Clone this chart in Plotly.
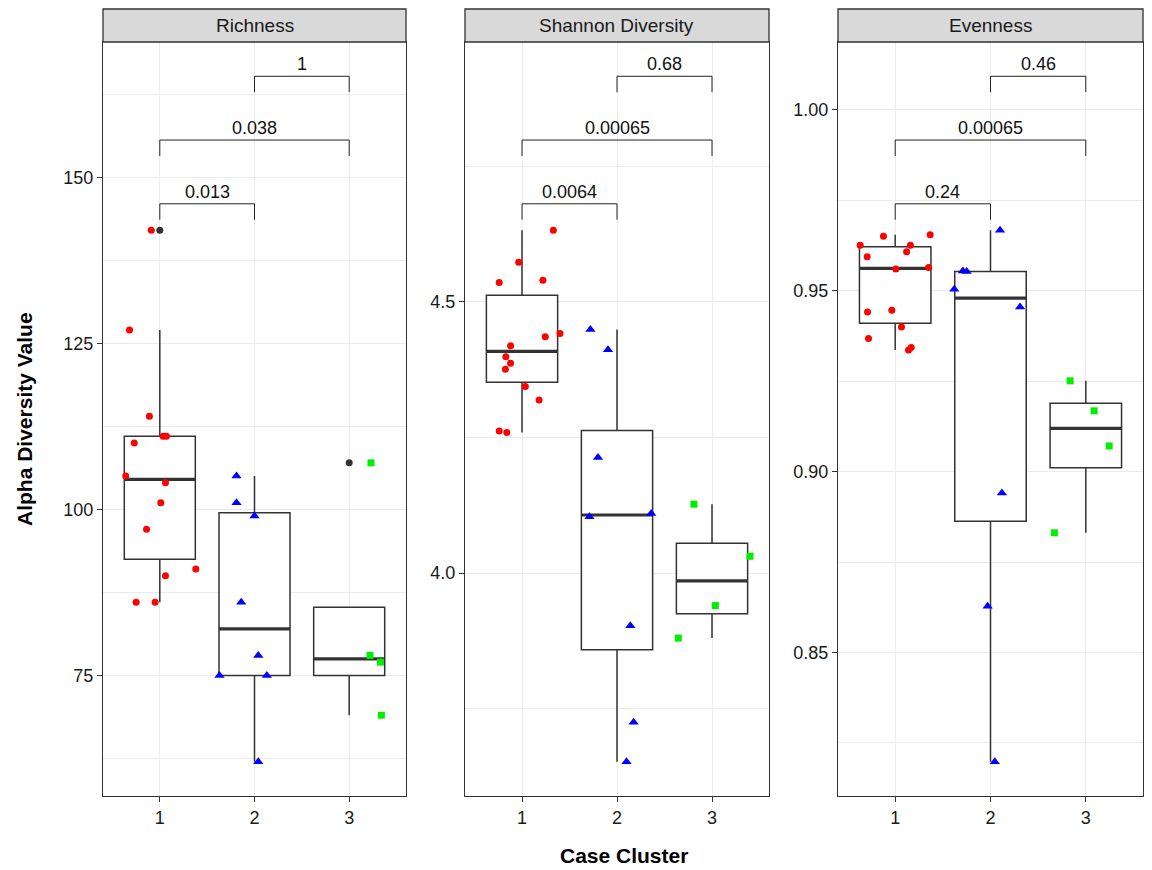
import numpy as np
import plotly.graph_objects as go

# ---------------- data ----------------
clusters = [1, 2, 3]
panel_titles = ["Richness", "Shannon Diversity", "Evenness"]

rich_1 = [142, 127, 114, 111, 111, 110, 105, 104, 101, 97, 91, 90, 86, 86]
rich_1_jit = [-0.09, -0.32, -0.11, 0.035, 0.07, -0.27, -0.36, 0.06, 0.01, -0.14, 0.38, 0.06, -0.25, -0.05]
rich_2 = [105, 101, 99, 86, 78, 75, 75, 62]
rich_2_jit = [-0.19, -0.19, 0.0, -0.14, 0.04, -0.37, 0.13, 0.04]
rich_3 = [107, 78, 77, 69]
rich_3_jit = [0.23, 0.22, 0.33, 0.34]

shan_1 = [4.632, 4.573, 4.536, 4.540, 4.442, 4.436, 4.419, 4.399, 4.387, 4.376, 4.344, 4.319, 4.262, 4.259]
shan_1_jit = [0.33, -0.035, -0.24, 0.22, 0.40, 0.245, -0.12, -0.17, -0.12, -0.175, 0.035, 0.18, -0.24, -0.16]
shan_2 = [4.449, 4.412, 4.213, 4.104, 4.110, 3.903, 3.725, 3.652]
shan_2_jit = [-0.28, -0.095, -0.2, -0.29, 0.36, 0.14, 0.175, 0.10]
shan_3 = [4.127, 4.031, 3.940, 3.880]
shan_3_jit = [-0.19, 0.40, 0.035, -0.355]

even_1 = [0.9651, 0.9655, 0.9626, 0.9626, 0.9594, 0.9608, 0.9560, 0.9564, 0.9441, 0.9446, 0.9400, 0.9368, 0.9336, 0.9343]
even_1_jit = [-0.123, 0.367, -0.367, 0.16, -0.294, 0.12, 0.007, 0.35, -0.29, -0.035, 0.066, -0.28, 0.14, 0.168]
even_2 = [0.9667, 0.9555, 0.9553, 0.9504, 0.9455, 0.8941, 0.8628, 0.8198]
even_2_jit = [0.10, -0.29, -0.25, -0.38, 0.31, 0.12, -0.03, 0.045]
even_3 = [0.9251, 0.9168, 0.9071, 0.8831]
even_3_jit = [-0.165, 0.087, 0.245, -0.33]

comparisons = [(1, 2), (1, 3), (2, 3)]
rich_p = ["0.013", "0.038", "1"]
shan_p = ["0.0064", "0.00065", "0.68"]
even_p = ["0.24", "0.00065", "0.46"]

y_dtick = [25, 0.5, 0.05]
y_format = ["d", ".1f", ".2f"]

panels = [
    ([rich_1, rich_2, rich_3], [rich_1_jit, rich_2_jit, rich_3_jit], rich_p),
    ([shan_1, shan_2, shan_3], [shan_1_jit, shan_2_jit, shan_3_jit], shan_p),
    ([even_1, even_2, even_3], [even_1_jit, even_2_jit, even_3_jit], even_p),
]

# ---------------- styling ----------------
OFF = 8  # page body margin in the browser
W, H = 1152 - OFF, 870 - OFF
FONT = "Liberation Sans, Arial, Helvetica, sans-serif"
DARK = "#333333"
GRID = "#ebebeb"
group_colors = ["#FF0000", "#0000FF", "#00EE00"]
group_symbols = ["circle", "triangle-up", "square"]
group_sizes = [7, 9, 7]
panel_x_px = [(103, 406), (465, 769), (838, 1143)]
plot_top_px, plot_bot_px = 42, 796
strip_top_px = 9


def fx(px):
    return (px - OFF) / W


def fy(py):
    return 1 - (py - OFF) / H


fig = go.Figure()
shapes = []
annotations = []


def box_stats(v):
    v = np.asarray(v, dtype=float)
    q1, med, q3 = np.percentile(v, [25, 50, 75])
    iqr = q3 - q1
    lo_f, hi_f = q1 - 1.5 * iqr, q3 + 1.5 * iqr
    inside = v[(v >= lo_f) & (v <= hi_f)]
    outl = v[(v < lo_f) | (v > hi_f)]
    return q1, med, q3, inside.min(), inside.max(), outl


for p, (groups, jits, pvals) in enumerate(panels):
    xa = "x" if p == 0 else f"x{p+1}"
    ya = "y" if p == 0 else f"y{p+1}"
    allv = np.concatenate([np.asarray(g, float) for g in groups])
    vmin, vmax = allv.min(), allv.max()
    rng = vmax - vmin

    for gi, (vals, jit) in enumerate(zip(groups, jits)):
        k = clusters[gi]
        q1, med, q3, lw, uw, outl = box_stats(vals)
        fig.add_trace(go.Box(
            x=[k], q1=[q1], median=[med], q3=[q3], lowerfence=[lw], upperfence=[uw],
            width=0.75, whiskerwidth=0, fillcolor="white",
            line=dict(color=DARK, width=1.5), boxpoints=False,
            xaxis=xa, yaxis=ya, showlegend=False, hoverinfo="skip"))
        fig.add_trace(go.Scatter(
            x=[k - 0.375, k + 0.375], y=[med, med], mode="lines",
            line=dict(color=DARK, width=3.2), xaxis=xa, yaxis=ya,
            showlegend=False, hoverinfo="skip"))
        if len(outl):
            fig.add_trace(go.Scatter(
                x=[k] * len(outl), y=list(outl), mode="markers",
                marker=dict(color=DARK, size=7, symbol="circle"),
                xaxis=xa, yaxis=ya, showlegend=False))

    for gi, (vals, jit) in enumerate(zip(groups, jits)):
        k = clusters[gi]
        fig.add_trace(go.Scatter(
            x=[k + j for j in jit], y=vals, mode="markers",
            marker=dict(color=group_colors[gi], size=group_sizes[gi],
                        symbol=group_symbols[gi], line=dict(width=0)),
            xaxis=xa, yaxis=ya, showlegend=False))

    # significance brackets
    for lvl, ((a, b), lab) in enumerate(zip(comparisons, pvals)):
        yb = vmax + rng * (0.05 + 0.12 * lvl)
        tip = 0.03 * rng
        shapes.append(dict(
            type="path", xref=xa, yref=ya,
            path=f"M {a},{yb - tip} L {a},{yb} L {b},{yb} L {b},{yb - tip}",
            line=dict(color="#222222", width=1)))
        annotations.append(dict(
            x=(a + b) / 2, y=yb, xref=xa, yref=ya, text=lab, showarrow=False,
            yanchor="bottom", yshift=0, font=dict(family=FONT, size=18, color="#111111")))

    top = vmax + rng * (0.05 + 0.12 * (len(comparisons) - 1))
    R = top - vmin
    yrange = [vmin - 0.05 * R, top + 0.05 * R]

    x0, x1 = panel_x_px[p]
    xdom = [fx(x0), fx(x1)]
    ydom = [fy(plot_bot_px), fy(plot_top_px)]
    axis_common = dict(
        showline=True, mirror=True, linecolor=DARK, linewidth=1.3,
        ticks="outside", ticklen=5, tickwidth=1.1, tickcolor=DARK,
        showgrid=True, gridcolor=GRID, gridwidth=1.1, zeroline=False,
        tickfont=dict(family=FONT, size=18, color="#1a1a1a"))
    fig.update_layout(**{
        ("xaxis" if p == 0 else f"xaxis{p+1}"): dict(
            domain=xdom, range=[0.4, 3.6], tickvals=clusters,
            ticktext=[str(c) for c in clusters], anchor=ya, **axis_common),
        ("yaxis" if p == 0 else f"yaxis{p+1}"): dict(
            domain=ydom, range=yrange, tick0=0, dtick=y_dtick[p],
            tickformat=y_format[p], anchor=xa,
            minor=dict(tick0=0, dtick=y_dtick[p] / 2, showgrid=True,
                       gridcolor=GRID, gridwidth=0.6, ticks=""),
            **axis_common),
    })

    # strip header
    shapes.append(dict(
        type="rect", xref="paper", yref="paper",
        x0=fx(x0), x1=fx(x1), y0=fy(plot_top_px), y1=fy(strip_top_px),
        fillcolor="#d9d9d9", line=dict(color=DARK, width=1.3), layer="above"))
    annotations.append(dict(
        x=fx((x0 + x1) / 2), y=fy((plot_top_px + strip_top_px) / 2),
        xref="paper", yref="paper", text=panel_titles[p], showarrow=False,
        xanchor="center", yanchor="middle",
        font=dict(family=FONT, size=19, color="#1a1a1a")))

annotations.append(dict(
    x=fx(624), y=fy(855), xref="paper", yref="paper",
    text="<b>Case Cluster</b>", showarrow=False, xanchor="center", yanchor="middle",
    font=dict(family=FONT, size=21, color="black")))
annotations.append(dict(
    x=fx(24), y=fy(419), xref="paper", yref="paper",
    text="<b>Alpha Diversity Value</b>", showarrow=False, textangle=-90,
    xanchor="center", yanchor="middle",
    font=dict(family=FONT, size=21, color="black")))

fig.update_layout(
    width=W, height=H, margin=dict(l=0, r=0, t=0, b=0),
    paper_bgcolor="white", plot_bgcolor="white",
    shapes=shapes, annotations=annotations, boxmode="overlay",
    showlegend=False,
)

fig.write_html("out.html")
